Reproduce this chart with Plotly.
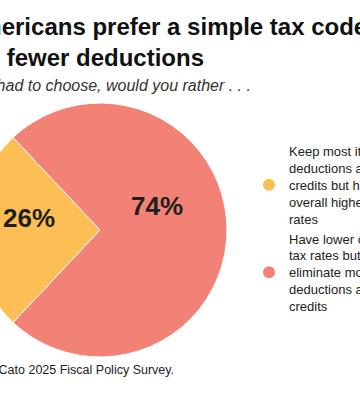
import math
import plotly.graph_objects as go

# ---- data ----
categories = [
    "Keep most itemized<br>deductions and<br>credits but have<br>overall higher tax<br>rates",
    "Have lower overall<br>tax rates but<br>eliminate most<br>deductions and<br>credits",
]
values = [26, 74]
colors = ["#FDBF55", "#F38276"]

title_lines = ["Americans prefer a simple tax code", "with fewer deductions"]
subtitle_text = "If you had to choose, would you rather . . ."
source_text = "Source: Cato 2025 Fiscal Policy Survey."

# ---- layout geometry (figure is wider than the visible window; left part hidden) ----
L, R = 60, 80
W, H = 360 + L + R, 393
FONT = "Liberation Sans"

cx, cy, rad = 100 + L, 230, 127
rotation = 270 - values[0] * 3.6 / 2

fig = go.Figure()
fig.add_trace(go.Pie(
    labels=categories,
    values=values,
    marker=dict(colors=colors, line=dict(color="white", width=1)),
    sort=False,
    direction="clockwise",
    rotation=rotation,
    textinfo="none",
    domain=dict(x=[(cx - rad) / W, (cx + rad) / W],
                y=[1 - (cy + rad) / H, 1 - (cy - rad) / H]),
    showlegend=False,
    hoverinfo="label+percent",
))

# percentage labels placed along each slice's bisector
label_style = [dict(frac=0.56, dy=-12), dict(frac=0.45, dy=-24)]
total = sum(values)
start = rotation
for v, st in zip(values, label_style):
    span = v / total * 360
    mid = math.radians(start + span / 2)  # clockwise from 12 o'clock
    px = cx + st["frac"] * rad * math.sin(mid)
    py = cy - st["frac"] * rad * math.cos(mid) + st["dy"]
    fig.add_annotation(x=px / W, y=1 - py / H, xref="paper", yref="paper",
                       xanchor="center", yanchor="middle", showarrow=False,
                       text=f"<b>{v}%</b>",
                       font=dict(family=FONT, size=26, color="#1f1f1f"))
    start += span

for name, col in zip(categories, colors):
    fig.add_trace(go.Scatter(
        x=[None], y=[None], mode="markers", name=name,
        marker=dict(color=col, size=12, symbol="circle"),
        showlegend=True,
    ))

for i, (line, dx) in enumerate(zip(title_lines, [-39, -51])):
    fig.add_annotation(x=(L + dx) / W, y=1 - (11 + 31 * i) / H, xref="paper", yref="paper",
                       xanchor="left", yanchor="top", align="left", showarrow=False,
                       text=f"<b>{line}</b>",
                       font=dict(family=FONT, size=24, color="#111111"))
fig.add_annotation(x=(L - 49) / W, y=1 - 75 / H, xref="paper", yref="paper",
                   xanchor="left", yanchor="top", align="left", showarrow=False,
                   text=f"<i>{subtitle_text}</i>",
                   font=dict(family=FONT, size=16, color="#333333"))
fig.add_annotation(x=(L - 50) / W, y=1 - 361 / H, xref="paper", yref="paper",
                   xanchor="left", yanchor="top", align="left", showarrow=False,
                   text=source_text,
                   font=dict(family=FONT, size=12.5, color="#222222"))

fig.update_layout(
    width=W, height=H,
    margin=dict(l=0, r=0, t=0, b=0),
    paper_bgcolor="white", plot_bgcolor="white",
    xaxis=dict(visible=False), yaxis=dict(visible=False),
    legend=dict(x=(289 + L - 40) / W, xanchor="left", y=1 - 229 / H, yanchor="middle",
                font=dict(family=FONT, size=13, color="#222222"),
                valign="middle", bgcolor="rgba(0,0,0,0)"),
    showlegend=True,
)

post = (
    "document.body.style.margin='0';"
    "document.body.style.overflow='hidden';"
    "var gd=document.getElementById('{plot_id}');"
    f"gd.style.marginLeft='-{L}px';"
)
fig.write_html("out.html", post_script=post, config={"displayModeBar": False})
